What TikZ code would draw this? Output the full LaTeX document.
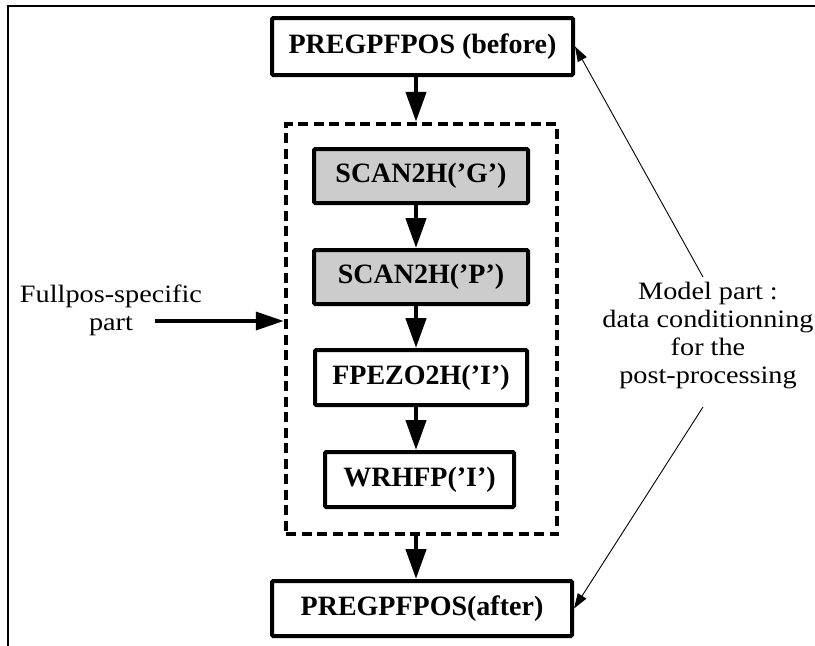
\documentclass[tikz,border=0pt]{standalone}
\usepackage{fontspec}
\setmainfont{Liberation Serif}
\newfontfamily\lblfont[FakeStretch=1.13]{Liberation Serif}
\usetikzlibrary{arrows.meta}
\begin{document}
\begin{tikzpicture}[x=1pt,y=-1pt,
  box/.style={draw, line width=4pt, rounded corners=1.2pt, fill=white,
    font=\fontsize{28}{32}\selectfont\bfseries, inner sep=0pt},
  shaded/.style={box, fill=black!20},
  flow/.style={line width=4.5pt, -{Triangle[length=30pt,width=20pt]}},
  feed/.style={line width=3.5pt, -{Triangle[length=28pt,width=18pt]}},
  thin/.style={line width=0.9pt, -{Triangle[length=15pt,width=10pt]}},
  lbl/.style={align=center, inner sep=0pt, anchor=base,
    font=\lblfont\fontsize{25}{27.7}\selectfont},
  frame/.style={line width=2pt}
]
\useasboundingbox (0,0) rectangle (815,646);
\draw[frame] (8,646) -- (8,6) -- (815,6);

\node[box, minimum width=301pt, minimum height=57pt] (before) at (422.5,46.5) {PREGPFPOS (before)};
\node[draw, dashed, line width=4.5pt, dash pattern=on 10pt off 5.5pt,
      minimum width=271pt, minimum height=410pt, inner sep=0pt] (fp) at (421.5,329) {};
\node[shaded, minimum width=214pt, minimum height=54pt] (G) at (421,176) {SCAN2H(’G’)};
\node[shaded, minimum width=214pt, minimum height=54pt] (P) at (421,277) {SCAN2H(’P’)};
\node[box, minimum width=212pt, minimum height=55pt] (F) at (421,377.5) {FPEZO2H(’I’)};
\node[box, minimum width=189pt, minimum height=55pt] (W) at (419.5,479.5) {WRHFP(’I’)};
\node[box, minimum width=300pt, minimum height=55pt] (after) at (422,608.5) {PREGPFPOS(after)};

\coordinate (ax) at (416,0);
\draw[flow] (before.south -| ax) -- (fp.north -| ax);
\draw[flow] (G.south -| ax) -- (P.north -| ax);
\draw[flow] (P.south -| ax) -- (F.north -| ax);
\draw[flow] (F.south -| ax) -- (W.north -| ax);
\draw[flow] (fp.south -| ax) -- (after.north -| ax);

\node[lbl] (full) at (111,330) {Fullpos-specific\\part};
\coordinate (fs) at (155,321);
\draw[feed] (fs) -- (fs -| fp.west);

\node[lbl] (model) at (708,383) {Model part :\\data conditionning\\for the\\post-processing};
\coordinate (m1) at (703,277);
\coordinate (m2) at (703,407);
\draw[thin] (m1) -- (before.east);
\draw[thin] (m2) -- (after.east);
\end{tikzpicture}
\end{document}
